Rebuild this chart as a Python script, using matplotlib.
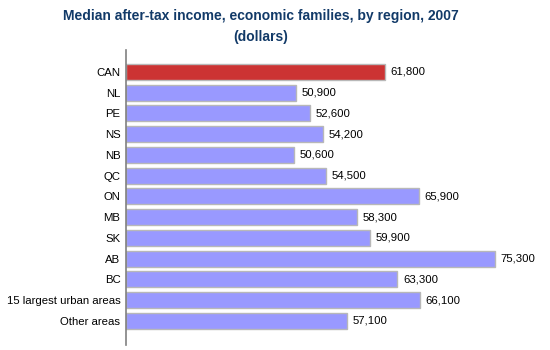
import matplotlib
matplotlib.use("Agg")
import matplotlib.pyplot as plt

regions = ["CAN", "NL", "PE", "NS", "NB", "QC", "ON", "MB", "SK", "AB", "BC",
           "15 largest urban areas", "Other areas"]
income = [61800, 50900, 52600, 54200, 50600, 54500, 65900, 58300, 59900, 75300,
          63300, 66100, 57100]

plt.rcParams['font.family'] = ['Liberation Sans', 'DejaVu Sans']

fig = plt.figure(figsize=(5.5, 3.5), dpi=100)
ax = fig.add_axes([126 / 550, 5 / 350, 414 / 550, 295 / 350])

base = 30000
colors = ["#cc3333"] + ["#9999ff"] * (len(regions) - 1)
ypos = list(range(len(regions)))
ax.barh(ypos, [v - base for v in income], left=base, height=0.77,
        color=colors, edgecolor="#b8b8b8", linewidth=1.0)

for y, v in zip(ypos, income):
    ax.text(v + 700, y, f"{v:,}", va="center", ha="left", fontsize=8.2)

ax.set_xlim(base, 80810)
ax.set_ylim(len(regions) - 1 + 1.16, -1.06)
ax.set_yticks(ypos)
ax.set_yticklabels(regions, fontsize=8.2)
ax.tick_params(axis="y", length=0, pad=4)
ax.set_xticks([])
for s in ["top", "right", "bottom"]:
    ax.spines[s].set_visible(False)
ax.spines["left"].set_color("#808080")
ax.spines["left"].set_linewidth(1.2)

fig.text(261 / 550, 1 - 16 / 350, "Median after-tax income, economic families, by region, 2007",
         ha="center", va="center", fontsize=10, fontweight="bold", color="#123a68")
fig.text(261 / 550, 1 - 37 / 350, "(dollars)",
         ha="center", va="center", fontsize=10, fontweight="bold", color="#123a68")

fig.savefig("out.png", dpi=100)
